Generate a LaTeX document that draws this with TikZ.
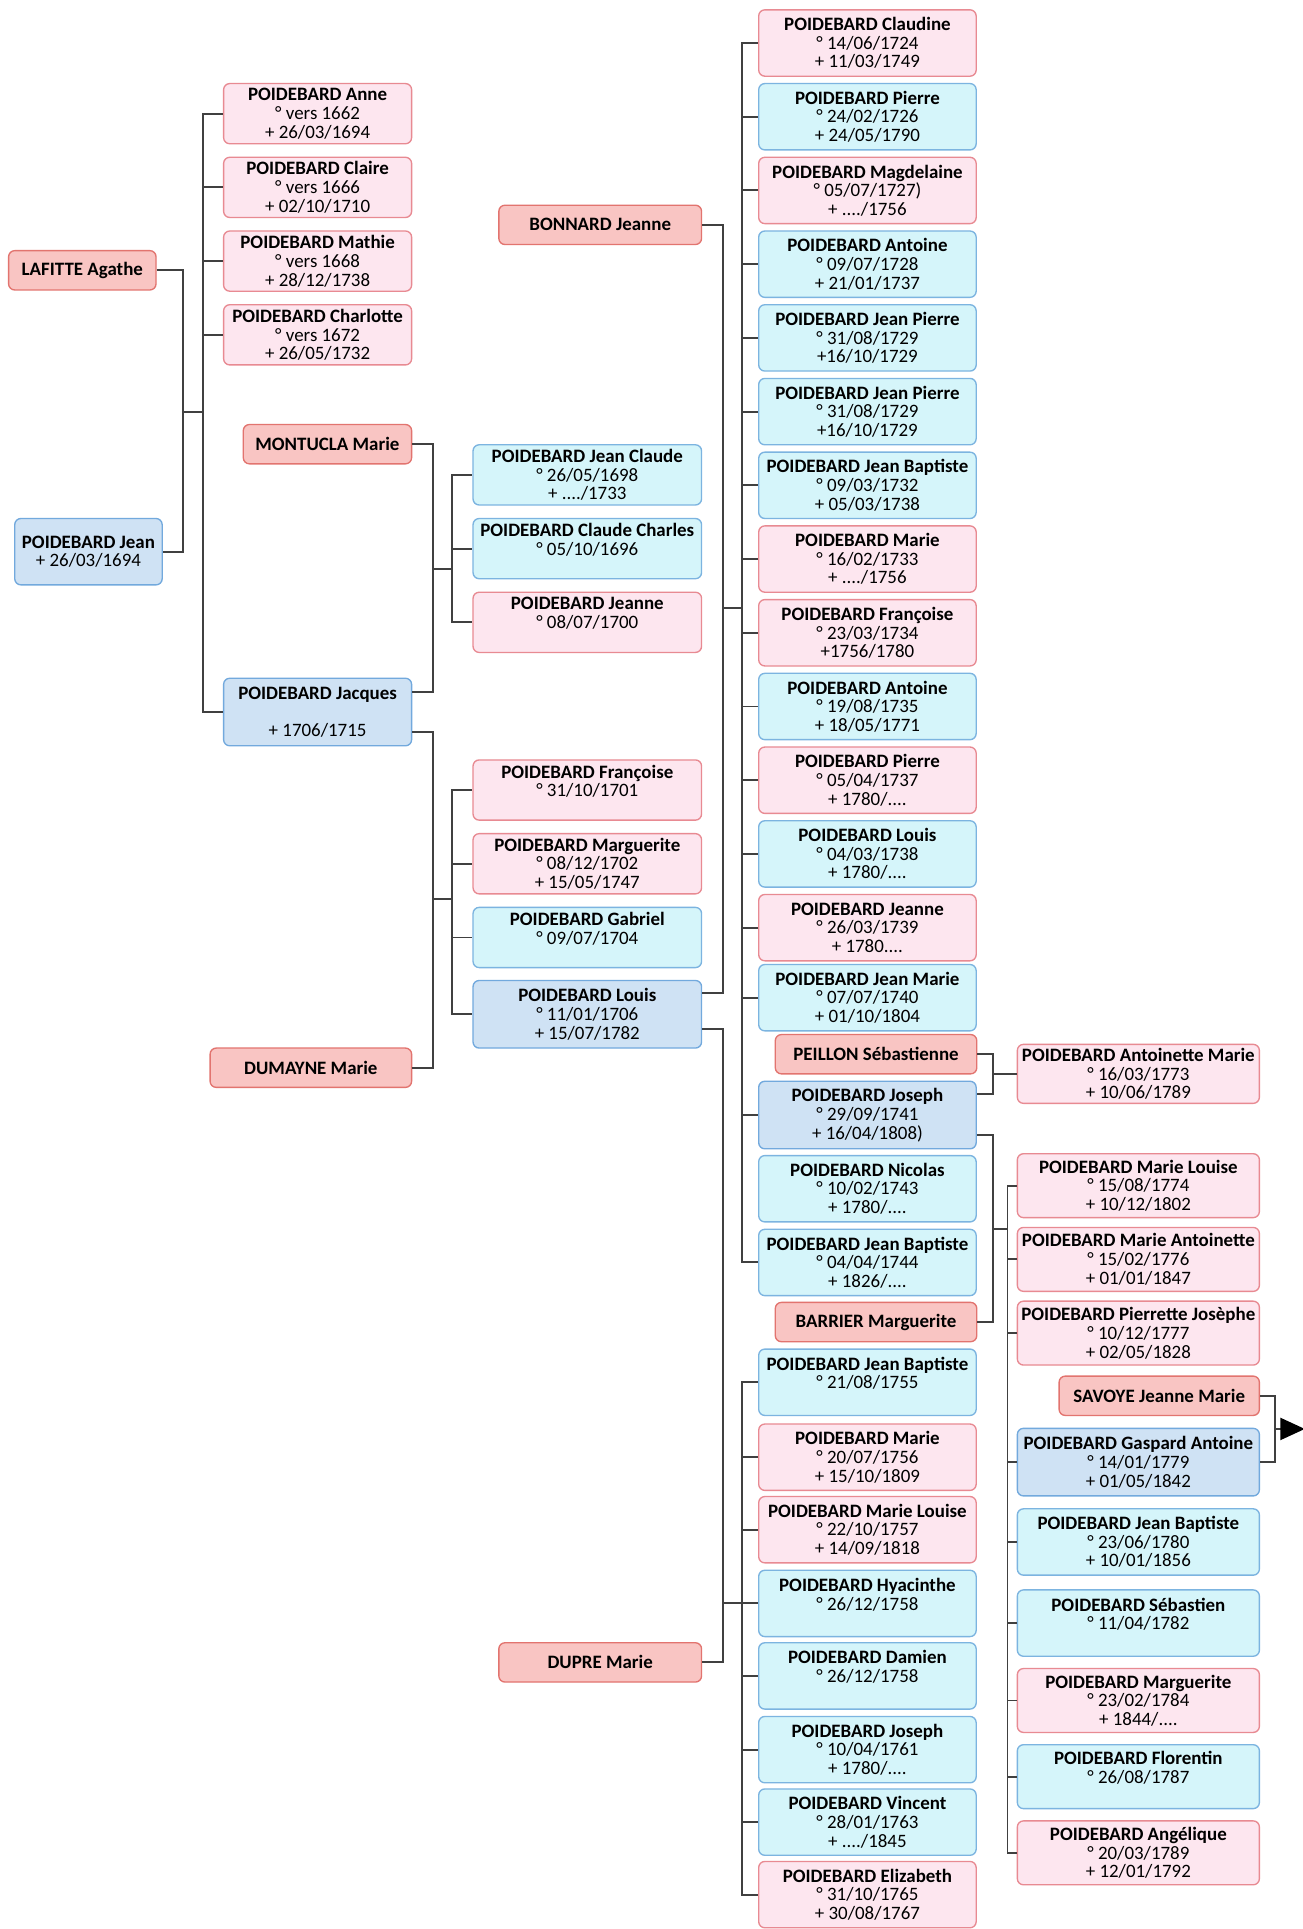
\documentclass[tikz,border=0pt]{standalone}
\usepackage{fontspec}
\setmainfont{Carlito}
\usetikzlibrary{arrows.meta}

\definecolor{spousefill}{HTML}{F9C5C3}
\definecolor{spouseline}{HTML}{E2746F}
\definecolor{girlfill}{HTML}{FDE6EF}
\definecolor{girlline}{HTML}{E88A92}
\definecolor{boyfill}{HTML}{D5F5FA}
\definecolor{boyline}{HTML}{7CB4E0}
\definecolor{heirfill}{HTML}{CFE2F4}
\definecolor{heirline}{HTML}{72A9DD}
\definecolor{linkgray}{HTML}{404040}

\begin{document}
\begin{tikzpicture}[x=0.5pt, y=-0.5pt,
	box/.style={draw, rounded corners=2.5pt, line width=0.55pt, align=center, inner sep=0pt, font=\fontsize{7.7}{7.6}\selectfont},
	spouse/.style={box, fill=spousefill, draw=spouseline, minimum height=16pt, font=\fontsize{7.7}{7.6}\selectfont\bfseries},
	girl/.style={box, fill=girlfill, draw=girlline},
	boy/.style={box, fill=boyfill, draw=boyline},
	heir/.style={box, fill=heirfill, draw=heirline},
	gen2/.style={minimum width=76.5pt, minimum height=24.5pt},
	gen3/.style={minimum width=93pt, minimum height=24.5pt},
	gen4/.style={minimum width=88.5pt, minimum height=27pt},
	gen5/.style={minimum width=98.5pt, minimum height=26pt},
	link/.style={draw=linkgray, line width=0.8pt}]
	\path[use as bounding box, fill=white] (0,0) rectangle (1060,1570);

	% first couple
	\node[spouse, minimum width=60pt] (0) at (67,220) {LAFITTE Agathe};
	\node[heir, minimum width=60pt, minimum height=27pt] (1) at (72,449) {\textbf{POIDEBARD Jean}\\+ 26/03/1694};

	\node[girl, gen2] (2) at (258.5,92.5) {\textbf{POIDEBARD Anne}\\° vers 1662\\+ 26/03/1694};
	\node[girl, gen2] (3) at (258.5,152.5) {\textbf{POIDEBARD Claire}\\° vers 1666\\+ 02/10/1710};
	\node[girl, gen2] (4) at (258.5,212.5) {\textbf{POIDEBARD Mathie}\\° vers 1668\\+ 28/12/1738};
	\node[girl, gen2] (5) at (258.5,272.5) {\textbf{POIDEBARD Charlotte}\\° vers 1672\\+ 26/05/1732};
	\node[spouse, minimum width=68.5pt] (6) at (266.5,361.5) {MONTUCLA Marie};
	\node[heir, gen2, minimum height=27.5pt] (7) at (258.5,579.5) {\textbf{POIDEBARD Jacques}\\~\\+ 1706/1715};
	\node[spouse, minimum width=82pt] (8) at (253,869) {DUMAYNE Marie};

	\node[boy, gen3] (9) at (478,386.5) {\textbf{POIDEBARD Jean Claude}\\° 26/05/1698\\+ ..../1733};
	\node[boy, gen3] (10) at (478,446.5) {\textbf{POIDEBARD Claude Charles}\\° 05/10/1696\\~};
	\node[girl, gen3] (11) at (478,506.5) {\textbf{POIDEBARD Jeanne}\\° 08/07/1700\\~};
	\node[girl, gen3] (12) at (478,643) {\textbf{POIDEBARD Françoise}\\° 31/10/1701\\~};
	\node[girl, gen3] (13) at (478,703) {\textbf{POIDEBARD Marguerite}\\° 08/12/1702\\+ 15/05/1747};
	\node[boy, gen3] (14) at (478,763) {\textbf{POIDEBARD Gabriel}\\° 09/07/1704\\~};
	\node[heir, gen3, minimum height=27.5pt] (15) at (478,825.5) {\textbf{POIDEBARD Louis}\\° 11/01/1706\\+ 15/07/1782};
	\node[spouse, minimum width=82.5pt] (16) at (488.5,183) {BONNARD Jeanne};
	\node[spouse, minimum width=82.5pt] (17) at (488.5,1353) {DUPRE Marie};

	\node[girl, gen4] (18) at (706,35) {\textbf{POIDEBARD Claudine}\\° 14/06/1724\\+ 11/03/1749};
	\node[boy, gen4] (19) at (706,95) {\textbf{POIDEBARD Pierre}\\° 24/02/1726\\+ 24/05/1790};
	\node[girl, gen4] (20) at (706,155) {\textbf{POIDEBARD Magdelaine}\\° 05/07/1727)\\+ ..../1756};
	\node[boy, gen4] (21) at (706,215) {\textbf{POIDEBARD Antoine}\\° 09/07/1728\\+ 21/01/1737};
	\node[boy, gen4] (22) at (706,275) {\textbf{POIDEBARD Jean Pierre}\\° 31/08/1729\\+16/10/1729};
	\node[boy, gen4] (23) at (706,335) {\textbf{POIDEBARD Jean Pierre}\\° 31/08/1729\\+16/10/1729};
	\node[boy, gen4] (24) at (706,395) {\textbf{POIDEBARD Jean Baptiste}\\° 09/03/1732\\+ 05/03/1738};
	\node[girl, gen4] (25) at (706,455) {\textbf{POIDEBARD Marie}\\° 16/02/1733\\+ ..../1756};
	\node[girl, gen4] (26) at (706,515) {\textbf{POIDEBARD Françoise}\\° 23/03/1734\\+1756/1780};
	\node[boy, gen4] (27) at (706,575) {\textbf{POIDEBARD Antoine}\\° 19/08/1735\\+ 18/05/1771};
	\node[girl, gen4] (28) at (706,635) {\textbf{POIDEBARD Pierre}\\° 05/04/1737\\+ 1780/....};
	\node[boy, gen4] (29) at (706,695) {\textbf{POIDEBARD Louis}\\° 04/03/1738\\+ 1780/....};
	\node[girl, gen4] (30) at (706,755) {\textbf{POIDEBARD Jeanne}\\° 26/03/1739\\+ 1780....};
	\node[boy, gen4] (31) at (706,812) {\textbf{POIDEBARD Jean Marie}\\° 07/07/1740\\+ 01/10/1804};
	\node[spouse, minimum width=82pt] (32) at (713,858) {PEILLON Sébastienne};
	\node[heir, gen4, minimum height=27.5pt] (33) at (706,907.5) {\textbf{POIDEBARD Joseph}\\° 29/09/1741\\+ 16/04/1808)};
	\node[boy, gen4] (34) at (706,967.5) {\textbf{POIDEBARD Nicolas}\\° 10/02/1743\\+ 1780/....};
	\node[boy, gen4] (35) at (706,1027.5) {\textbf{POIDEBARD Jean Baptiste}\\° 04/04/1744\\+ 1826/....};
	\node[spouse, minimum width=82pt] (36) at (713,1076) {BARRIER Marguerite};
	\node[boy, gen4] (37) at (706,1125) {\textbf{POIDEBARD Jean Baptiste}\\° 21/08/1755\\~};
	\node[girl, gen4] (38) at (706,1186) {\textbf{POIDEBARD Marie}\\° 20/07/1756\\+ 15/10/1809};
	\node[girl, gen4] (39) at (706,1245) {\textbf{POIDEBARD Marie Louise}\\° 22/10/1757\\+ 14/09/1818};
	\node[boy, gen4] (40) at (706,1305) {\textbf{POIDEBARD Hyacinthe}\\° 26/12/1758\\~};
	\node[boy, gen4] (41) at (706,1364) {\textbf{POIDEBARD Damien}\\° 26/12/1758\\~};
	\node[boy, gen4] (42) at (706,1424) {\textbf{POIDEBARD Joseph}\\° 10/04/1761\\+ 1780/....};
	\node[boy, gen4] (43) at (706,1483) {\textbf{POIDEBARD Vincent}\\° 28/01/1763\\+ ..../1845};
	\node[girl, gen4] (44) at (706,1542) {\textbf{POIDEBARD Elizabeth}\\° 31/10/1765\\+ 30/08/1767};

	\node[girl, gen5, minimum height=24pt] (45) at (926.5,874) {\textbf{POIDEBARD Antoinette Marie}\\° 16/03/1773\\+ 10/06/1789};
	\node[girl, gen5] (46) at (926.5,965) {\textbf{POIDEBARD Marie Louise}\\° 15/08/1774\\+ 10/12/1802};
	\node[girl, gen5] (47) at (926.5,1025) {\textbf{POIDEBARD Marie Antoinette}\\° 15/02/1776\\+ 01/01/1847};
	\node[girl, gen5] (48) at (926.5,1085) {\textbf{POIDEBARD Pierrette Josèphe}\\° 10/12/1777\\+ 02/05/1828};
	\node[spouse, minimum width=81.5pt] (49) at (943.5,1136) {SAVOYE Jeanne Marie};
	\node[heir, gen5, minimum height=27.5pt] (50) at (926.5,1190) {\textbf{POIDEBARD Gaspard Antoine}\\° 14/01/1779\\+ 01/05/1842};
	\node[boy, gen5, minimum height=27pt] (51) at (926.5,1255) {\textbf{POIDEBARD Jean Baptiste}\\° 23/06/1780\\+ 10/01/1856};
	\node[boy, gen5, minimum height=27pt] (52) at (926.5,1321) {\textbf{POIDEBARD Sébastien}\\° 11/04/1782\\~};
	\node[girl, gen5] (53) at (926.5,1384) {\textbf{POIDEBARD Marguerite}\\° 23/02/1784\\+ 1844/....};
	\node[boy, gen5] (54) at (926.5,1446) {\textbf{POIDEBARD Florentin}\\° 26/08/1787\\~};
	\node[girl, gen5] (55) at (926.5,1508) {\textbf{POIDEBARD Angélique}\\° 20/03/1789\\+ 12/01/1792};

	% couples and their children
	\draw[link] (0.east) -- ++(21,0) |- (1.east);
	\coordinate (a1) at (148,335);
	\coordinate (b1) at (165,335);
	\draw[link] (a1) -- (b1);
	\foreach \c in {2,3,4,5,7}
		\draw[link] (b1) |- (\c.west);

	\draw[link] (6.east) -- ++(17,0) |- ([yshift=8pt]7.east);
	\coordinate (a2) at (352,463);
	\coordinate (b2) at (368,463);
	\draw[link] (a2) -- (b2);
	\foreach \c in {9,10,11}
		\draw[link] (b2) |- (\c.west);

	\draw[link] ([yshift=-8pt]7.east) -- ++(17,0) |- (8.east);
	\coordinate (a3) at (352,732);
	\coordinate (b3) at (368,732);
	\draw[link] (a3) -- (b3);
	\foreach \c in {12,13,14,15}
		\draw[link] (b3) |- (\c.west);

	\draw[link] (16.east) -- ++(17,0) |- ([yshift=8.5pt]15.east);
	\coordinate (a4) at (588,495);
	\coordinate (b4) at (604,495);
	\draw[link] (a4) -- (b4);
	\foreach \c in {18,...,31,33,35}
		\draw[link] (b4) |- (\c.west);

	\draw[link] ([yshift=-6pt]15.east) -- ++(17,0) |- (17.east);
	\coordinate (a5) at (588,1305);
	\coordinate (b5) at (604,1305);
	\draw[link] (a5) -- (b5);
	\foreach \c in {37,...,44}
		\draw[link] (b5) |- (\c.west);

	\draw[link] (32.east) -- ++(13,0) |- ([yshift=8.5pt]33.east);
	\coordinate (a6) at (808,874);
	\draw[link] (a6) -- (45.west);

	\draw[link] ([yshift=-8pt]33.east) -- ++(13,0) |- (36.east);
	\coordinate (a7) at (808,1000);
	\coordinate (b7) at (820,1000);
	\draw[link] (a7) -- (b7);
	\foreach \c in {46,47,48,50,51,52,53,54,55}
		\draw[link] (b7) |- (\c.west);

	\draw[link] (49.east) -- ++(12,0) |- (50.east);
	\coordinate (a8) at (1037,1163);
	\coordinate (out) at (1062,1163);
	\draw[link, -{Triangle[length=10pt, width=9pt, color=black]}] (a8) -- (out);
\end{tikzpicture}
\end{document}
